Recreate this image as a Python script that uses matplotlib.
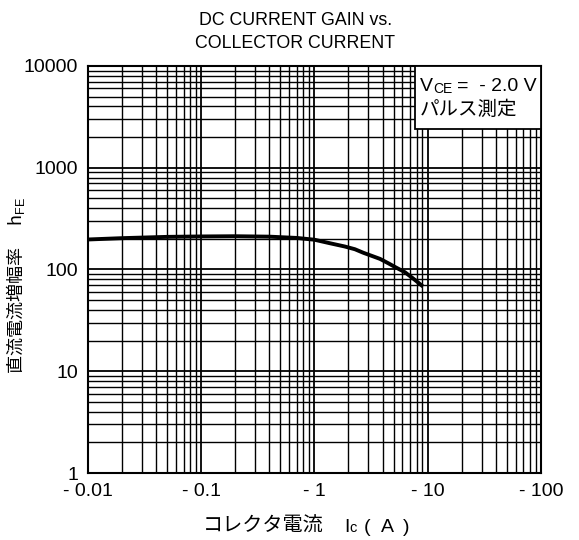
import matplotlib
matplotlib.use("Agg")
import matplotlib.pyplot as plt
import numpy as np
from matplotlib.ticker import FixedLocator, NullFormatter, LogLocator
from matplotlib.patches import Rectangle

plt.rcParams['font.family'] = ['Liberation Sans', 'Noto Sans CJK JP', 'DejaVu Sans']
plt.rcParams['mathtext.fontset'] = 'custom'
plt.rcParams['mathtext.rm'] = 'Liberation Sans'
plt.rcParams['mathtext.it'] = 'Liberation Sans'

ic = [0.01, 0.02, 0.05, 0.1, 0.2, 0.4, 0.7, 1, 1.37, 1.86, 2.28, 2.7, 3.8,
      4.5, 5.3, 6.3, 7.4, 8.3, 9.1]
hfe = [197, 203, 209, 211, 212, 210, 204, 196, 181, 168, 158, 146, 127,
       115, 104, 94, 82, 74, 68]
x_ticks = [0.01, 0.1, 1, 10, 100]
x_labels = ["- 0.01", "- 0.1", "- 1", "- 10", "- 100"]
y_ticks = [1, 10, 100, 1000, 10000]
y_labels = ["1", "10", "100", "1000", "10000"]

W, H = 579, 540
fig = plt.figure(figsize=(W / 100, H / 100), dpi=100)
ax = fig.add_axes([0.152, 0.124, 0.782, 0.754])
ax.set_xscale('log')
ax.set_yscale('log')
ax.set_xlim(0.01, 100)
ax.set_ylim(1, 10000)

ax.xaxis.set_major_locator(FixedLocator(x_ticks))
ax.set_xticklabels(x_labels)
ax.yaxis.set_major_locator(FixedLocator(y_ticks))
ax.set_yticklabels(y_labels)
ax.xaxis.set_minor_locator(LogLocator(base=10, subs=np.arange(2, 10)))
ax.yaxis.set_minor_locator(LogLocator(base=10, subs=np.arange(2, 10)))
ax.xaxis.set_minor_formatter(NullFormatter())
ax.yaxis.set_minor_formatter(NullFormatter())
ax.tick_params(which='both', length=0, labelsize=14, pad=7)
ax.grid(True, which='major', color='black', lw=1.3)
ax.grid(True, which='minor', color='black', lw=1.0)
for s in ax.spines.values():
    s.set_linewidth(1.5)

ax.plot(ic, hfe, color='black', lw=2.8, zorder=5, solid_capstyle='butt',
        solid_joinstyle='round')

ax.add_patch(Rectangle((0.722, 0.845), 0.278, 0.155, transform=ax.transAxes,
                       fc='white', ec='black', lw=1.3, zorder=9, clip_on=False))
ax.text(0.733, 0.955, "V", transform=ax.transAxes,
        ha='left', va='center_baseline', fontsize=14, zorder=10)
ax.text(0.762, 0.947, "CE", transform=ax.transAxes,
        ha='left', va='center_baseline', fontsize=10, zorder=10)
ax.text(0.815, 0.955, "=  - 2.0 V", transform=ax.transAxes,
        ha='left', va='center_baseline', fontsize=14, zorder=10)
ax.text(0.733, 0.893, "パルス測定", transform=ax.transAxes,
        ha='left', va='center', fontsize=14, zorder=10,
        family=['Noto Sans CJK JP', 'Liberation Sans'])

fig.text(0.51, 0.978, "DC CURRENT GAIN vs.\nCOLLECTOR CURRENT", ha='center', va='top',
         fontsize=12.8, linespacing=1.45)

# x-axis label built from pieces (small-cap subscript as in the reference)
yb = 1 - 532 / H
fig.text(203 / W, yb, "コレクタ電流", ha='left', va='baseline', fontsize=14.5,
         family=['Noto Sans CJK JP', 'Liberation Sans'])
fig.text(344 / W, yb, "I", ha='left', va='baseline', fontsize=14)
fig.text(349 / W, yb, "c", ha='left', va='baseline', fontsize=10.5)
fig.text(364 / W, yb, "(", ha='left', va='baseline', fontsize=14)
fig.text(381 / W, yb, "A", ha='left', va='baseline', fontsize=14)
fig.text(403 / W, yb, ")", ha='left', va='baseline', fontsize=14)

ax.set_ylabel("直流電流増幅率　 h$_{\\mathrm{FE}}$", fontsize=13,
              family=['Noto Sans CJK JP', 'Liberation Sans'])
ax.yaxis.set_label_coords(-0.135, 0.46)
fig.savefig("out.png", dpi=100)
